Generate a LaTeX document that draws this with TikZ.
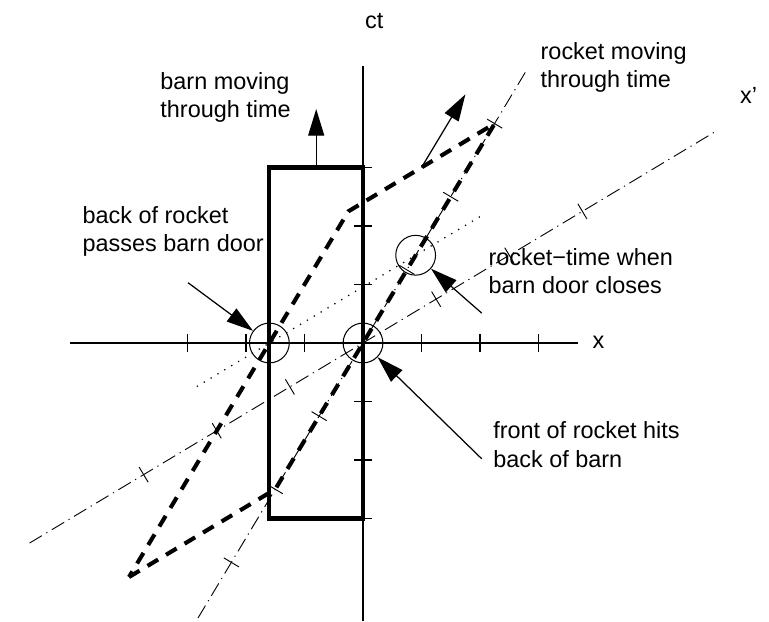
\documentclass[tikz,border=0pt]{standalone}
\usepackage{fontspec}
\setmainfont{Liberation Sans}
\usetikzlibrary{arrows.meta}
\tikzset{
  axis/.style={line width=.5pt},
  primed/.style={line width=.45pt,dash pattern=on 7pt off 2.5pt on .6pt off 2.5pt},
  simul/.style={line width=.6pt,dash pattern=on .6pt off 3.3pt},
  worldline/.style={line width=2pt,dash pattern=on 6pt off 4.5pt,line join=round},
  barnwall/.style={line width=2pt},
  evt/.style={circle,draw,line width=.5pt,minimum size=.68cm,inner sep=0pt},
  lbl/.style={anchor=base west,align=left,inner sep=0pt},
  pointer/.style={line width=.6pt,-{Triangle[length=13pt,width=7.8pt]}},
}

\begin{document}
\begin{tikzpicture}[x=1cm,y=1cm,font=\fontsize{11.4}{13.7}\selectfont]
\useasboundingbox (-6.205,-4.752) rectangle (6.94,5.863);
% rest frame axes
\draw[axis] (-5,0) -- (3.67,0);
\draw[axis] (0,-4.75) -- (0,4.73);
\foreach \k in {-3,-2,-1,1,2,3} {
  \draw[axis] (\k,-.15) -- (\k,.15);
  \draw[axis] (-.15,\k) -- (.15,\k);
}
% rocket frame axes
\draw[primed] (-5.7,-3.42) -- (6,3.6);
\draw[primed] (-2.82,-4.7) -- (2.8,4.67);
\foreach \k in {-3,-2,-1,1,2,3} {
  \draw[axis,line width=.45pt] ({1.25*\k-.077},{.75*\k+.129}) -- ({1.25*\k+.077},{.75*\k-.129});
  \draw[axis,line width=.45pt] ({.75*\k-.129},{1.25*\k+.077}) -- ({.75*\k+.129},{1.25*\k-.077});
}
\draw[simul] (-2.84,-.744) -- (2.05,2.19);
% barn
\draw[barnwall] (-1.6,-3) rectangle (0,3);
\coordinate (barnTop) at (-.8,3);
\coordinate (barnNext) at (-.8,4);
\draw[pointer] (barnTop) -- (barnNext);
% rocket
\coordinate (rBackLow) at (-4,-4);
\coordinate (rFrontLow) at (-1.5,-2.5);
\coordinate (rFrontHigh) at (2.25,3.75);
\coordinate (rBackHigh) at (-.25,2.25);
\draw[worldline] (rBackLow) -- (rFrontLow) -- (rFrontHigh) -- (rBackHigh) -- cycle;
\coordinate (rocketTop) at (1,3);
\coordinate (rocketNext) at (1.75,4.25);
\draw[pointer] (rocketTop) -- (rocketNext);
% events
\node[evt] (door) at (-1.6,0) {};
\node[evt] (hit) at (0,0) {};
\node[evt] (close) at (.9,1.5) {};
% labels
\node[lbl] (ctlbl) at (.03,5.38) {ct};
\node[lbl] (xlbl) at (3.92,-.1) {x};
\node[lbl] (xplbl) at (6.44,4.1) {x'};
\node[lbl] (rocketlbl) at (3.03,4.36) {rocket moving\\through time};
\node[lbl] (barnlbl) at (-3.47,3.85) {barn moving\\through time};
\node[lbl] (doorlbl) at (-4.8,1.56) {back of rocket\\passes barn door};
\node[lbl] (closelbl) at (2.14,.85) {rocket−time when\\barn door closes};
\node[lbl] (hitlbl) at (2.22,-2.12) {front of rocket hits\\back of barn};
\coordinate (doorTail) at (-2.99,1.03);
\coordinate (closeTail) at (2.03,.51);
\coordinate (hitTail) at (2.03,-1.98);
\draw[pointer] (doorTail) -- (door);
\draw[pointer] (closeTail) -- (close);
\draw[pointer] (hitTail) -- (hit);
\end{tikzpicture}
\end{document}
